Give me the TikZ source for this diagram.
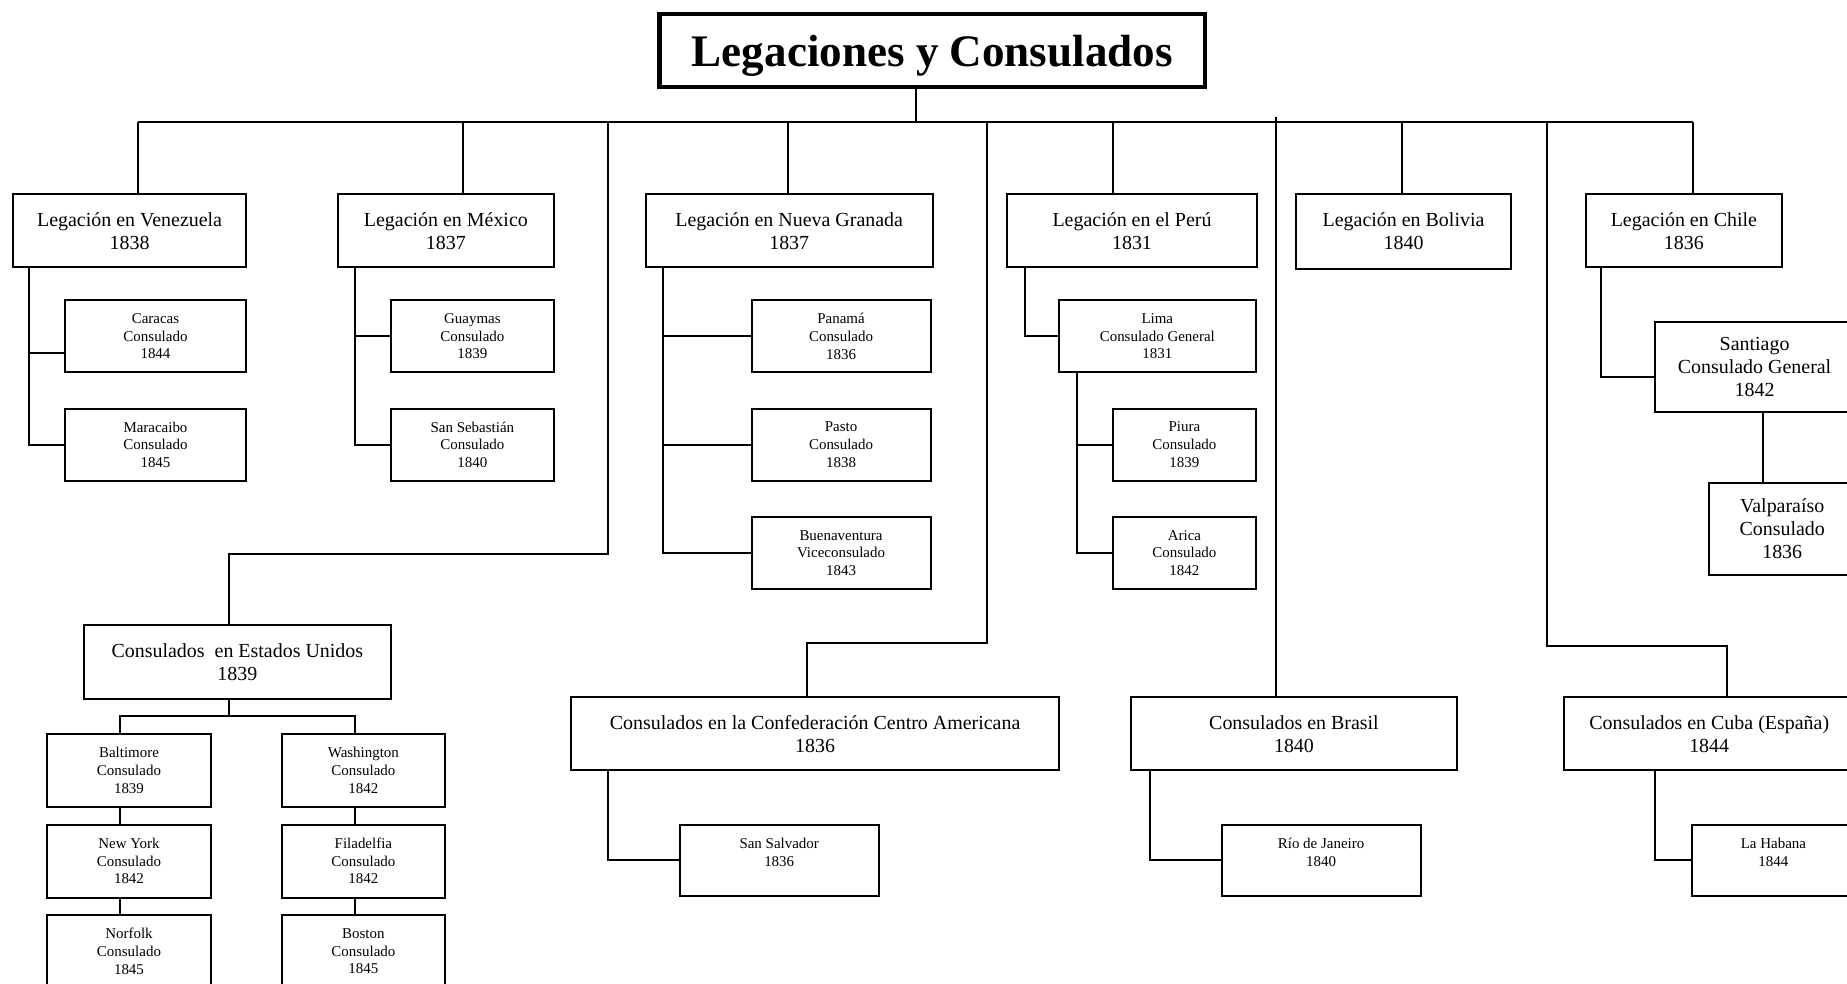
\documentclass[tikz,border=0pt]{standalone}
\usepackage{fontspec}
\setmainfont{Liberation Serif}
\newcommand{\lgsize}{\fontsize{4.8bp}{5.5bp}\selectfont}
\newcommand{\smsize}{\fontsize{3.6bp}{4.25bp}\selectfont}
\newcommand{\ttsize}{\fontsize{10.85bp}{12bp}\selectfont\bfseries}

\begin{document}
\begin{tikzpicture}[
        every node/.style={inner sep=0pt, outer sep=0pt, align=center},
        wire/.style={black, line width=0.48bp},
        legbox/.style={draw, wire, minimum height=0.62cm, font=\lgsize},
        conbox/.style={draw, wire, minimum height=0.61cm, font=\smsize},
        titlebox/.style={draw, black, line width=1.1bp, minimum width=4.63cm, minimum height=0.62cm, font=\ttsize}
    ]
        \useasboundingbox (0,0) rectangle (15.68,-8.35);

        \node[titlebox] (title) at (7.915,-0.43) {\raisebox{-1.3bp}[\height][\depth]{Legaciones y Consulados}};

        % legaciones
        \node[legbox, minimum width=1.98cm] (ven) at (1.10,-1.96) {Legación en Venezuela\\1838};
        \node[legbox, minimum width=1.83cm] (mex) at (3.785,-1.96) {Legación en México\\1837};
        \node[legbox, minimum width=2.44cm] (ng) at (6.70,-1.96) {Legación en Nueva Granada\\1837};
        \node[legbox, minimum width=2.12cm] (peru) at (9.61,-1.96) {Legación en el Perú\\1831};
        \node[legbox, minimum width=1.83cm, minimum height=0.63cm] (bol) at (11.915,-1.965) {Legación en Bolivia\\1840};
        \node[legbox, minimum width=1.67cm] (chile) at (14.295,-1.96) {Legación en Chile\\1836};

        % consulados de las legaciones
        \node[conbox, minimum width=1.54cm] (car) at (1.32,-2.855) {Caracas\\Consulado\\1844};
        \node[conbox, minimum width=1.54cm] (mar) at (1.32,-3.775) {Maracaibo\\Consulado\\1845};
        \node[conbox, minimum width=1.38cm] (guay) at (4.01,-2.855) {Guaymas\\Consulado\\1839};
        \node[conbox, minimum width=1.38cm] (sseb) at (4.01,-3.775) {San Sebastián\\Consulado\\1840};
        \node[conbox, minimum width=1.52cm] (pan) at (7.14,-2.855) {Panamá\\Consulado\\1836};
        \node[conbox, minimum width=1.52cm] (pas) at (7.14,-3.775) {Pasto\\Consulado\\1838};
        \node[conbox, minimum width=1.52cm] (buen) at (7.14,-4.695) {Buenaventura\\Viceconsulado\\1843};
        \node[conbox, minimum width=1.67cm] (lima) at (9.825,-2.855) {Lima\\Consulado General\\1831};
        \node[conbox, minimum width=1.21cm] (piu) at (10.055,-3.775) {Piura\\Consulado\\1839};
        \node[conbox, minimum width=1.21cm] (ari) at (10.055,-4.695) {Arica\\Consulado\\1842};
        \node[legbox, minimum width=1.69cm, minimum height=0.77cm] (sant) at (14.895,-3.115) {Santiago\\Consulado General\\1842};
        \node[legbox, minimum width=1.24cm, minimum height=0.78cm] (valp) at (15.13,-4.49) {Valparaíso\\Consulado\\1836};

        % consulados sin legacion
        \node[legbox, minimum width=2.61cm] (eeuu) at (2.015,-5.62) {Consulados~ en Estados Unidos\\1839};
        \node[legbox, minimum width=4.14cm] (ca) at (6.92,-6.23) {Consulados en la Confederación Centro Americana\\1836};
        \node[legbox, minimum width=2.77cm] (bra) at (10.985,-6.23) {Consulados en Brasil\\1840};
        \node[legbox, minimum width=2.46cm] (cuba) at (14.51,-6.23) {Consulados en Cuba (España)\\1844};

        \node[conbox, minimum width=1.39cm, minimum height=0.62cm] (balt) at (1.095,-6.54) {Baltimore\\Consulado\\1839};
        \node[conbox, minimum width=1.39cm, minimum height=0.62cm] (wash) at (3.085,-6.54) {Washington\\Consulado\\1842};
        \node[conbox, minimum width=1.39cm, minimum height=0.62cm] (ny) at (1.095,-7.31) {New York\\Consulado\\1842};
        \node[conbox, minimum width=1.39cm, minimum height=0.62cm] (fil) at (3.085,-7.31) {Filadelfia\\Consulado\\1842};
        \node[conbox, minimum width=1.39cm, minimum height=0.62cm] (norf) at (1.095,-8.075) {Norfolk\\Consulado\\1845};
        \node[conbox, minimum width=1.39cm, minimum height=0.62cm] (bost) at (3.085,-8.075) {Boston\\Consulado\\1845};
        \node[conbox, minimum width=1.69cm] (sal) at (6.615,-7.305) {San Salvador\\1836\\[-1.7bp]\strut};
        \node[conbox, minimum width=1.69cm] (rio) at (11.215,-7.305) {Río de Janeiro\\1840\\[-1.7bp]\strut};
        \node[conbox, minimum width=1.39cm] (hab) at (15.055,-7.305) {La Habana\\1844\\[-1.7bp]\strut};

        % barra principal
        \coordinate (dtit) at (7.78,-1.04);
        \draw [wire] (dtit) -- (dtit |- title.south);
        \foreach \n/\x in {ven/1.17, mex/3.93, ng/6.69, peru/9.45, bol/11.90, chile/14.37} {
            \coordinate (d\n) at (\x,-1.04);
            \draw [wire] (d\n) -- (d\n |- \n.north);
        }
        \draw [wire] (dven) -- (dchile);

        \coordinate (deeuu) at (5.16,-1.04);
        \coordinate (keeuu) at (1.94,-4.70);
        \draw [wire] (deeuu) |- (keeuu) -- (keeuu |- eeuu.north);
        \coordinate (dca) at (8.38,-1.04);
        \coordinate (kca) at (6.85,-5.46);
        \draw [wire] (dca) |- (kca) -- (kca |- ca.north);
        \coordinate (dbra) at (10.83,-0.99);
        \draw [wire] (dbra) -- (dbra |- bra.north);
        \coordinate (dcuba) at (13.13,-1.04);
        \coordinate (kcuba) at (14.66,-5.48);
        \draw [wire] (dcuba) |- (kcuba) -- (kcuba |- cuba.north);

        % ramas
        \draw [wire] (0.25,0 |- ven.south) |- ([yshift=-1.45mm]car.west);
        \draw [wire] (0.25,0 |- ven.south) |- (mar.west);
        \foreach \c in {guay,sseb} {
            \draw [wire] (3.01,0 |- mex.south) |- (\c.west);
        }
        \foreach \c in {pan,pas,buen} {
            \draw [wire] (5.63,0 |- ng.south) |- (\c.west);
        }
        \draw [wire] (8.70,0 |- peru.south) |- (lima.west);
        \foreach \c in {piu,ari} {
            \draw [wire] (9.145,0 |- lima.south) |- (\c.west);
        }
        \draw [wire] (13.59,0 |- chile.south) |- ([yshift=-0.85mm]sant.west);
        \draw [wire] (14.97,0 |- sant.south) -- (14.97,0 |- valp.north);

        \coordinate (jeeuu) at (1.94,-6.08);
        \draw [wire] (jeeuu |- eeuu.south) -- (jeeuu);
        \draw [wire] (1.02,0 |- balt.north) |- (jeeuu);
        \draw [wire] (3.01,0 |- wash.north) |- (jeeuu);
        \foreach \a/\b in {balt/ny, ny/norf} {
            \draw [wire] (1.02,0 |- \a.south) -- (1.02,0 |- \b.north);
        }
        \foreach \a/\b in {wash/fil, fil/bost} {
            \draw [wire] (3.01,0 |- \a.south) -- (3.01,0 |- \b.north);
        }
        \draw [wire] (5.16,0 |- ca.south) |- (sal.west);
        \draw [wire] (9.76,0 |- bra.south) |- (rio.west);
        \draw [wire] (14.05,0 |- cuba.south) |- (hab.west);
\end{tikzpicture}
\end{document}
